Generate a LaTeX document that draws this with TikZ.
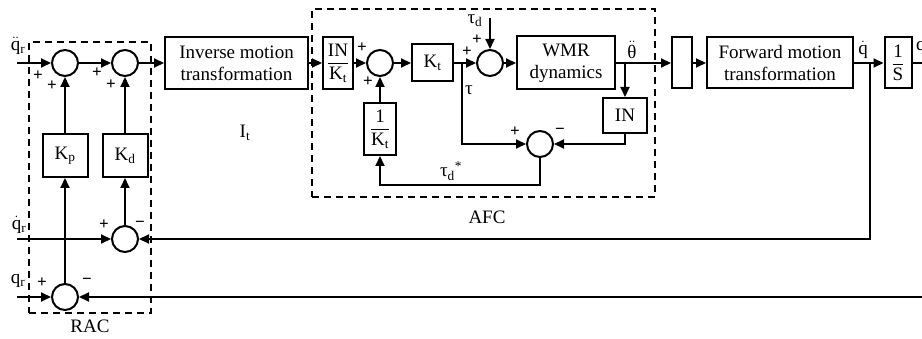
\documentclass[tikz,border=0pt]{standalone}
\usepackage{fontspec}
\setmainfont{Liberation Serif}
\usepackage{amsmath}
\usetikzlibrary{arrows.meta}
\begin{document}
\begin{tikzpicture}[x=1pt,y=-1pt,
  every node/.style={font=\fontsize{19}{22}\selectfont},
  blk/.style={draw, line width=2pt, inner sep=0pt, align=center},
  sumj/.style={draw, circle, line width=2pt, minimum size=26pt, inner sep=0pt},
  conn/.style={line width=2pt, -{Triangle[length=10pt,width=9pt]}},
  wire/.style={line width=2pt},
  dbox/.style={draw, line width=2pt, dash pattern=on 7pt off 5pt, inner sep=0pt},
  lbl/.style={inner sep=0pt},
  sgn/.style={inner sep=0pt, font=\fontsize{17}{17}\selectfont\bfseries}]
\useasboundingbox (0,0) rectangle (922,339);
\clip (0,0) rectangle (922,339);
% dashed groups
\node[dbox, minimum width=122pt, minimum height=271pt] (rac) at (90,177.5) {};
\node[dbox, minimum width=343pt, minimum height=188pt] (afc) at (483.5,103) {};
% RAC blocks
\node[sumj] (s1) at (65,63) {};
\node[sumj] (s2) at (125,63) {};
\node[blk, minimum width=45pt, minimum height=43pt] (kp) at (65,155.5) {K\textsubscript{p}};
\node[blk, minimum width=45pt, minimum height=43pt] (kd) at (125,155.5) {K\textsubscript{d}};
\node[sumj] (s3) at (125,239) {};
\node[sumj] (s4) at (65,297) {};
% forward path
\node[blk, minimum width=143pt, minimum height=52pt] (inv) at (236.5,63) {Inverse motion\\transformation};
\node[blk, minimum width=30pt, minimum height=52pt] (ink) at (338,63) {$\dfrac{\text{IN}}{\text{K}_{\text{t}}}$};
\node[sumj] (s5) at (380,63) {};
\node[blk, minimum width=32pt, minimum height=52pt] (ik) at (380,129) {$\dfrac{\text{1}}{\text{K}_{\text{t}}}$};
\node[blk, minimum width=41pt, minimum height=37pt] (kt) at (432.5,63) {K\textsubscript{t}};
\node[sumj] (s6) at (490,63) {};
\node[blk, minimum width=98pt, minimum height=53pt] (wmr) at (566,63) {WMR\\dynamics};
\node[blk, minimum width=44pt, minimum height=35pt] (in) at (625,115.5) {IN};
\node[sumj] (s7) at (540,144) {};
\node[blk, minimum width=20pt, minimum height=51pt] (emp) at (682,63) {};
\node[blk, minimum width=146pt, minimum height=51pt] (fwd) at (780,63) {Forward motion\\transformation};
\node[blk, minimum width=27pt, minimum height=51pt] (ins) at (898,63) {$\dfrac{\text{1}}{\text{S}}$};
% coordinates
\coordinate (qddin) at (17,63);
\coordinate (qdin) at (17,239);
\coordinate (qin) at (17,297);
\coordinate (tdin) at (490,18);
\coordinate (jt) at (462,63);
\coordinate (jth) at (625,63);
\coordinate (bt) at (540,185);
\coordinate (jq) at (870,63);
\coordinate (out) at (930,63);
\coordinate (botr) at (930,297);
% connectors
\draw[conn] (qddin) -- (s1);
\draw[conn] (s1) -- (s2);
\draw[conn] (s2) -- (inv);
\draw[conn] (inv) -- (ink);
\draw[conn] (ink) -- (s5);
\draw[conn] (s5) -- (kt);
\draw[conn] (kt) -- (s6);
\draw[conn] (s6) -- (wmr);
\draw[conn] (tdin) -- (s6);
\draw[conn] (jt) |- (s7);
\draw[conn] (jth) -- (in);
\draw[conn] (in.south) |- (s7);
\draw[conn] (s7.south) -- (bt) -| (ik.south);
\draw[conn] (ik) -- (s5);
\draw[conn] (wmr) -- (emp);
\draw[conn] (emp) -- (fwd);
\draw[conn] (fwd) -- (ins);
\draw[wire] (ins) -- (out);
\draw[conn] (jq) |- (s3);
\draw[conn] (botr) -- (s4);
\draw[conn] (qdin) -- (s3);
\draw[conn] (qin) -- (s4);
\draw[conn] (s4) -- (kp);
\draw[conn] (kp) -- (s1);
\draw[conn] (s3) -- (kd);
\draw[conn] (kd) -- (s2);
% labels
\node[lbl] (lrac) at (90,326) {RAC};
\node[lbl] (lafc) at (487,217) {AFC};
\node[lbl] (lit) at (245,133) {I\textsubscript{t}};
\node[lbl] (lqdd) at (18,46) {$\ddot{\text{q}}$\textsubscript{r}};
\node[lbl] (lqd) at (19,225) {$\dot{\text{q}}$\textsubscript{r}};
\node[lbl] (lq) at (18,281) {q\textsubscript{r}};
\node[lbl] (ltd) at (475,21) {τ\textsubscript{d}};
\node[lbl] (ltau) at (469,90) {τ};
\node[lbl] (ltds) at (451,171) {τ\textsubscript{d}\textsuperscript{*}};
\node[lbl] (lth) at (632,50) {$\ddot{\text{θ}}$};
\node[lbl] (lqdo) at (863,50) {$\dot{\text{q}}$};
\node[lbl, anchor=west] (lqo) at (916,48) {q};
% signs
\node[sgn] (p1) at (38,76) {+};
\node[sgn] (p2) at (52,86) {+};
\node[sgn] (p3) at (97,73) {+};
\node[sgn] (p4) at (111,85) {+};
\node[sgn] (p5) at (104,225) {+};
\node[sgn] (m1) at (140,224) {−};
\node[sgn] (p6) at (42,283) {+};
\node[sgn] (m2) at (87,281) {−};
\node[sgn] (p7) at (362,48) {+};
\node[sgn] (p8) at (368,82) {+};
\node[sgn] (p9) at (467,52) {+};
\node[sgn] (p10) at (477,40) {+};
\node[sgn] (p11) at (515,132) {+};
\node[sgn] (m3) at (560,131) {−};
\end{tikzpicture}
\end{document}
